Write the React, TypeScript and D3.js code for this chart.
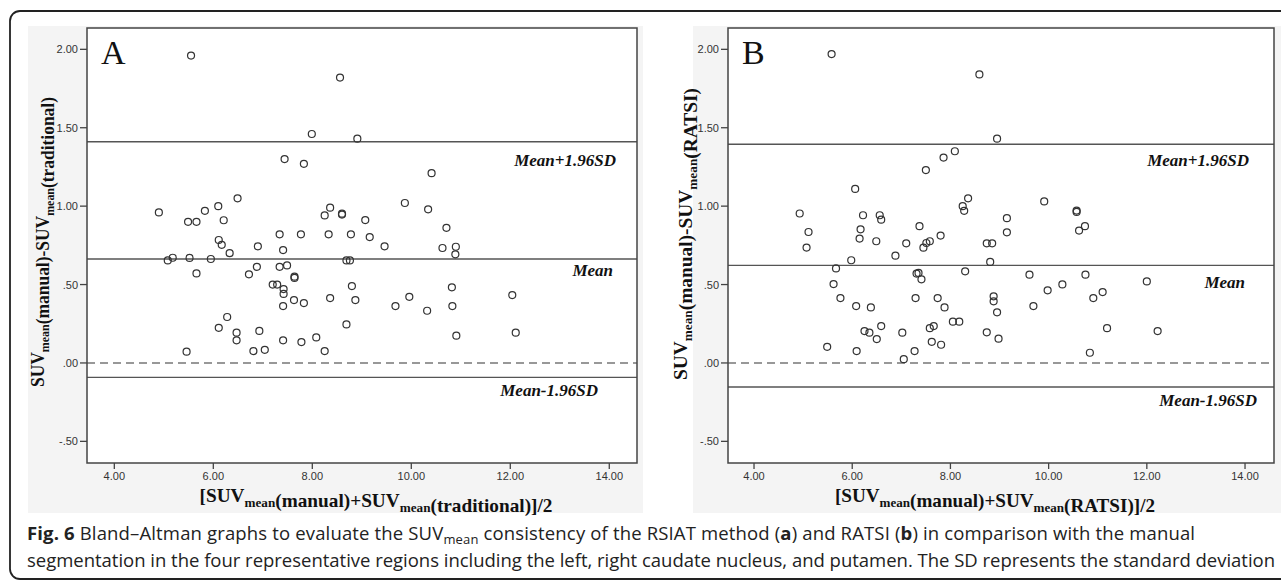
import React from 'react';
import * as d3 from 'd3';

// ---------- data ----------
const avgA = [5.55, 8.56, 7.99, 8.91, 7.44, 7.83, 10.41, 6.49, 9.87, 6.10, 8.36, 10.34, 5.83, 4.90, 8.60, 8.60, 8.25, 6.21, 9.07, 5.49, 5.66, 10.71, 7.34, 7.77, 8.33, 8.78, 9.16, 6.11, 6.17, 6.90, 9.46, 10.90, 10.63, 7.41, 6.33, 10.89, 5.18, 5.52, 5.95, 5.08, 8.69, 8.76, 7.49, 7.34, 6.88, 5.66, 6.72, 7.64, 7.64, 7.20, 7.29, 8.80, 10.82, 7.42, 7.42, 12.04, 9.96, 8.36, 7.63, 8.87, 7.83, 7.41, 9.68, 10.83, 10.32, 6.28, 8.69, 6.11, 6.93, 6.47, 12.11, 10.91, 8.08, 6.47, 7.41, 7.78, 7.04, 6.81, 8.25, 5.46];
const diffA = [1.96, 1.82, 1.46, 1.43, 1.30, 1.27, 1.21, 1.05, 1.02, 1.00, 0.99, 0.98, 0.97, 0.96, 0.952, 0.946, 0.941, 0.91, 0.911, 0.90, 0.90, 0.862, 0.82, 0.82, 0.82, 0.82, 0.803, 0.784, 0.753, 0.744, 0.744, 0.741, 0.733, 0.72, 0.70, 0.693, 0.671, 0.67, 0.663, 0.654, 0.654, 0.654, 0.622, 0.613, 0.613, 0.571, 0.565, 0.55, 0.542, 0.50, 0.50, 0.49, 0.482, 0.471, 0.44, 0.433, 0.422, 0.414, 0.401, 0.401, 0.382, 0.363, 0.363, 0.363, 0.333, 0.293, 0.246, 0.224, 0.204, 0.193, 0.193, 0.174, 0.163, 0.144, 0.144, 0.133, 0.084, 0.076, 0.076, 0.072];

const avgB = [5.58, 8.59, 8.95, 8.09, 7.86, 7.50, 6.06, 8.36, 9.91, 8.25, 8.28, 10.57, 10.57, 4.93, 6.22, 6.56, 6.59, 9.15, 7.37, 10.74, 6.17, 10.62, 5.11, 9.15, 7.80, 6.15, 6.49, 7.58, 7.51, 7.10, 8.74, 8.85, 5.07, 7.45, 6.88, 5.98, 8.81, 5.67, 8.30, 7.35, 7.31, 9.61, 10.75, 7.41, 12.00, 5.62, 10.28, 9.98, 11.10, 8.88, 5.76, 7.29, 7.74, 10.91, 8.88, 6.08, 9.69, 6.38, 7.88, 8.95, 8.05, 8.18, 6.59, 7.66, 7.58, 11.19, 6.25, 12.22, 6.35, 7.02, 8.74, 8.98, 6.50, 7.62, 7.81, 5.49, 6.09, 7.27, 10.84, 7.05];
const diffB = [1.97, 1.84, 1.43, 1.35, 1.31, 1.23, 1.11, 1.05, 1.03, 1.00, 0.97, 0.972, 0.963, 0.953, 0.942, 0.942, 0.914, 0.923, 0.872, 0.872, 0.852, 0.844, 0.835, 0.833, 0.812, 0.793, 0.776, 0.776, 0.765, 0.763, 0.763, 0.763, 0.736, 0.735, 0.684, 0.655, 0.644, 0.603, 0.584, 0.574, 0.57, 0.563, 0.563, 0.533, 0.52, 0.503, 0.501, 0.463, 0.452, 0.425, 0.414, 0.414, 0.414, 0.414, 0.393, 0.363, 0.363, 0.354, 0.354, 0.323, 0.263, 0.263, 0.235, 0.235, 0.222, 0.222, 0.203, 0.203, 0.193, 0.193, 0.195, 0.155, 0.152, 0.135, 0.116, 0.103, 0.076, 0.076, 0.065, 0.024];

const limitsA = [1.411, 0.663, -0.092];
const limitsB = [1.395, 0.622, -0.153];
const limitLabels = ['Mean+1.96SD', 'Mean', 'Mean-1.96SD'];

const xTicks = [4, 6, 8, 10, 12, 14];
const yTicks = [2.0, 1.5, 1.0, 0.5, 0.0, -0.5];

const fmtTick = (v: number) => {
  const s = Math.abs(v).toFixed(2).replace(/^0/, '');
  return (v < 0 ? '-' : '') + s;
};

const SERIF = '"Liberation Serif", "Times New Roman", serif';
const SANS = '"Liberation Sans", Arial, sans-serif';
const CAP = '"Open Sans", "Noto Sans", sans-serif';

type PanelProps = {
  letter: string;
  xs: number[];
  ys: number[];
  limits: number[];
  method: string;
  bg: [number, number, number, number];
  plot: [number, number, number, number];
  xDomain: [number, number];
  yDomain: [number, number];
  labelRightOffsets: number[];
  labelDy: number[];
  yTitleX: number;
  yTitleY: number;
  yTitleLen: number;
  xTitleX: number;
  xTitleLen: number;
};

function Panel(p: PanelProps) {
  const [L, T, R, B] = p.plot;
  const x = d3.scaleLinear().domain(p.xDomain).range([L, R]);
  const y = d3.scaleLinear().domain(p.yDomain).range([B, T]);
  const sub = (t: string) => (
    <>
      <tspan dy={5} fontSize={13}>{t}</tspan>
      <tspan dy={-5}></tspan>
    </>
  );
  return (
    <g>
      <rect x={p.bg[0]} y={p.bg[1]} width={p.bg[2] - p.bg[0]} height={p.bg[3] - p.bg[1]} fill="#f4f4f4" />
      <rect x={L} y={T} width={R - L} height={B - T} fill="#fff" />
      {/* zero line */}
      <line x1={L} x2={R} y1={y(0)} y2={y(0)} stroke="#777" strokeWidth={1.6} strokeDasharray="8,5" />
      {/* limit lines */}
      {p.limits.map((v, i) => (
        <g key={i}>
          <line x1={L} x2={R} y1={y(v)} y2={y(v)} stroke="#555" strokeWidth={1.4} />
          <text x={R - p.labelRightOffsets[i]} y={y(v) + p.labelDy[i]} textAnchor="end" fontFamily={SERIF}
            fontWeight="bold" fontStyle="italic" fontSize={17} fill="#111">{limitLabels[i]}</text>
        </g>
      ))}
      {/* points */}
      {p.xs.map((v, i) => (
        <circle key={i} cx={x(v)} cy={y(p.ys[i])} r={3.5} fill="none" stroke="#333" strokeWidth={1.2} />
      ))}
      {/* frame */}
      <rect x={L} y={T} width={R - L} height={B - T} fill="none" stroke="#444" strokeWidth={1.5} />
      {/* y ticks */}
      {yTicks.map((v) => (
        <g key={v}>
          <line x1={L - 7} x2={L} y1={y(v)} y2={y(v)} stroke="#444" strokeWidth={1.3} />
          <text x={L - 9} y={y(v) + 4} textAnchor="end" fontFamily={SANS} fontSize={11} fill="#333">{fmtTick(v)}</text>
        </g>
      ))}
      {/* x ticks */}
      {xTicks.map((v) => (
        <g key={v}>
          <line x1={x(v)} x2={x(v)} y1={B} y2={B + 6} stroke="#444" strokeWidth={1.3} />
          <text x={x(v)} y={B + 17} textAnchor="middle" fontFamily={SANS} fontSize={11} fill="#333">{fmtTick(v)}</text>
        </g>
      ))}
      {/* panel letter */}
      <text x={L + 14} y={T + 36} fontFamily={SERIF} fontSize={34} fill="#111">{p.letter}</text>
      {/* y title */}
      <text transform={`translate(${p.yTitleX},${p.yTitleY}) rotate(-90)`} textAnchor="middle" fontFamily={SERIF}
        fontWeight="bold" fontSize={19} fill="#111" textLength={p.yTitleLen} lengthAdjust="spacingAndGlyphs">
        SUV{sub('mean')}(manual)-SUV{sub('mean')}({p.method})
      </text>
      {/* x title */}
      <text x={p.xTitleX} y={502} textAnchor="middle" fontFamily={SERIF} fontWeight="bold" fontSize={19} fill="#111"
        textLength={p.xTitleLen} lengthAdjust="spacingAndGlyphs">
        [SUV{sub('mean')}(manual)+SUV{sub('mean')}({p.method})]/2
      </text>
    </g>
  );
}

export default function App() {
  return (
    <svg width={1281} height={584} style={{ position: 'absolute', left: 0, top: 0, display: 'block' }}
      xmlns="http://www.w3.org/2000/svg">
      <rect x={0} y={0} width={1281} height={584} fill="#fff" />
      <rect x={10} y={11} width={1300} height={568} rx={10} ry={10} fill="none" stroke="#222" strokeWidth={1.8} />
      <Panel letter="A" xs={avgA} ys={diffA} limits={limitsA} method="traditional"
        bg={[28, 26, 643, 513]} plot={[87, 28, 637, 463]} xDomain={[3.448, 14.56]} yDomain={[-0.638, 2.136]}
        labelRightOffsets={[21, 24, 39]} labelDy={[24, 17, 19]} yTitleX={44} yTitleY={242} yTitleLen={290}
        xTitleX={376} xTitleLen={353} />
      <Panel letter="B" xs={avgB} ys={diffB} limits={limitsB} method="RATSI"
        bg={[693, 26, 1281, 513]} plot={[728, 28, 1274, 463]} xDomain={[3.47, 14.59]} yDomain={[-0.638, 2.136]}
        labelRightOffsets={[25, 29, 17]} labelDy={[22, 23, 19]} yTitleX={687} yTitleY={234} yTitleLen={292}
        xTitleX={995} xTitleLen={320} />
      <text x={27} y={540} fontFamily={CAP} fontSize={18.5} fill="#222" textLength={1168} lengthAdjust="spacing">
        <tspan fontWeight="bold">Fig. 6</tspan> Bland–Altman graphs to evaluate the SUV
        <tspan dy={4} fontSize={13}>mean</tspan>
        <tspan dy={-4}> consistency of the RSIAT method (</tspan>
        <tspan fontWeight="bold">a</tspan>) and RATSI (<tspan fontWeight="bold">b</tspan>) in comparison with the manual
      </text>
      <text x={27} y={567} fontFamily={CAP} fontSize={18.5} fill="#222" textLength={1248} lengthAdjust="spacing">
        segmentation in the four representative regions including the left, right caudate nucleus, and putamen. The SD represents the standard deviation
      </text>
    </svg>
  );
}
